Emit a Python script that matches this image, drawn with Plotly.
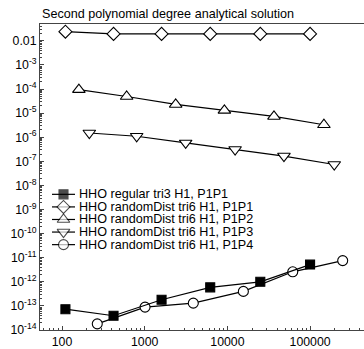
import plotly.graph_objects as go

# ---- data ----
n_tri3_p1 = [110, 420, 1600, 6200, 25000, 100000]
err_tri3_p1 = [7.3e-14, 3.9e-14, 1.8e-13, 5.9e-13, 1.0e-12, 5.2e-12]

n_rand_p1 = [110, 420, 1600, 6200, 25000, 100000]
err_rand_p1 = [0.024, 0.0195, 0.0195, 0.0195, 0.0195, 0.0195]

n_rand_p2 = [160, 605, 2370, 9200, 36600, 147000]
err_rand_p2 = [9.5e-5, 4.9e-5, 2.3e-5, 1.3e-5, 7.3e-6, 3.3e-6]

n_rand_p3 = [214, 800, 3130, 12400, 48300, 196000]
err_rand_p3 = [1.5e-6, 1.1e-6, 5.8e-7, 3.1e-7, 1.66e-7, 7.4e-8]

n_rand_p4 = [267, 1010, 3870, 15600, 61700, 248000]
err_rand_p4 = [1.8e-14, 8.9e-14, 1.3e-13, 4.0e-13, 2.6e-12, 7.6e-12]

series_names = [
    "HHO regular tri3 H1, P1P1",
    "HHO randomDist tri6 H1, P1P1",
    "HHO randomDist tri6 H1, P1P2",
    "HHO randomDist tri6 H1, P1P3",
    "HHO randomDist tri6 H1, P1P4",
]
series_x = [n_tri3_p1, n_rand_p1, n_rand_p2, n_rand_p3, n_rand_p4]
series_y = [err_tri3_p1, err_rand_p1, err_rand_p2, err_rand_p3, err_rand_p4]
symbols = ["square", "diamond", "triangle-up", "triangle-down", "circle"]
fills = ["black", "white", "white", "white", "white"]
sizes = [9, 10, 11, 11, 10]

x_tickvals = [100, 1000, 10000, 100000]
x_ticktext = ["100", "1000", "10000", "100000"]
y_exps = list(range(-2, -15, -1))
y_tickvals = [10.0 ** e for e in y_exps]
y_ticktext = ["0.01"] + ["10<sup>%d</sup>" % e for e in y_exps[1:]]

title_text = "Second polynomial degree analytical solution"

FONT = "Liberation Sans, Arial, Helvetica, sans-serif"
AX = "#444444"

fig = go.Figure()

order = [1, 2, 3, 4, 0]
for i in order:
    fig.add_trace(go.Scatter(
        x=series_x[i], y=series_y[i], mode="lines+markers",
        line=dict(color="black", width=1.2),
        marker=dict(symbol=symbols[i], size=sizes[i], color=fills[i],
                    line=dict(color="black", width=1.1)),
        showlegend=False, cliponaxis=False, name=series_names[i],
    ))

# compact legend drawn on a pixel-space overlay axis
leg_x0, leg_x1 = 52, 75
leg_y0, leg_dy = 196, 12.7
for k in range(5):
    yy = leg_y0 + k * leg_dy
    fig.add_trace(go.Scatter(
        x=[leg_x0, (leg_x0 + leg_x1) / 2, leg_x1], y=[yy, yy, yy],
        xaxis="x2", yaxis="y2", mode="lines+markers",
        line=dict(color="black", width=1.2),
        marker=dict(symbol=symbols[k], size=[0, sizes[k], 0], color=fills[k],
                    line=dict(color="black", width=1.1)),
        showlegend=False, hoverinfo="skip", cliponaxis=False,
    ))
    fig.add_annotation(x=77, y=yy, xref="x2", yref="y2", text=series_names[k],
                       showarrow=False, xanchor="left", yanchor="middle",
                       font=dict(family=FONT, size=12.6, color="black"))

fig.add_annotation(x=0.0, y=(333 - 14) / 309, xref="paper", yref="paper",
                   text=title_text, showarrow=False,
                   xanchor="left", yanchor="middle",
                   font=dict(family=FONT, size=12.6, color="black"))

fig.update_layout(
    width=364, height=349,
    margin=dict(l=40, r=0, t=24, b=16),
    paper_bgcolor="white", plot_bgcolor="white",
    font=dict(family=FONT, size=12, color="black"),
    xaxis=dict(type="log", range=[1.734, 5.652],
               tickmode="array", tickvals=x_tickvals, ticktext=x_ticktext,
               ticks="inside", ticklen=4, tickcolor=AX, tickwidth=1,
               minor=dict(ticks="inside", ticklen=2, tickcolor=AX, dtick="D1", showgrid=False),
               showline=True, linecolor=AX, linewidth=1, mirror=True,
               showgrid=False, zeroline=False,
               tickfont=dict(family=FONT, size=12.3, color="black")),
    yaxis=dict(type="log", range=[-14, -1.30],
               tickmode="array", tickvals=y_tickvals, ticktext=y_ticktext,
               ticks="inside", ticklen=4, tickcolor=AX, tickwidth=1,
               minor=dict(ticks="inside", ticklen=2, tickcolor=AX, dtick="D1", showgrid=False),
               showline=True, linecolor=AX, linewidth=1, mirror=False,
               showgrid=False, zeroline=False,
               tickfont=dict(family=FONT, size=12.3, color="black")),
    xaxis2=dict(overlaying="x", range=[40, 364], visible=False, fixedrange=True),
    yaxis2=dict(overlaying="y", range=[333, 24], visible=False, fixedrange=True),
)

fig.write_html("out.html")
